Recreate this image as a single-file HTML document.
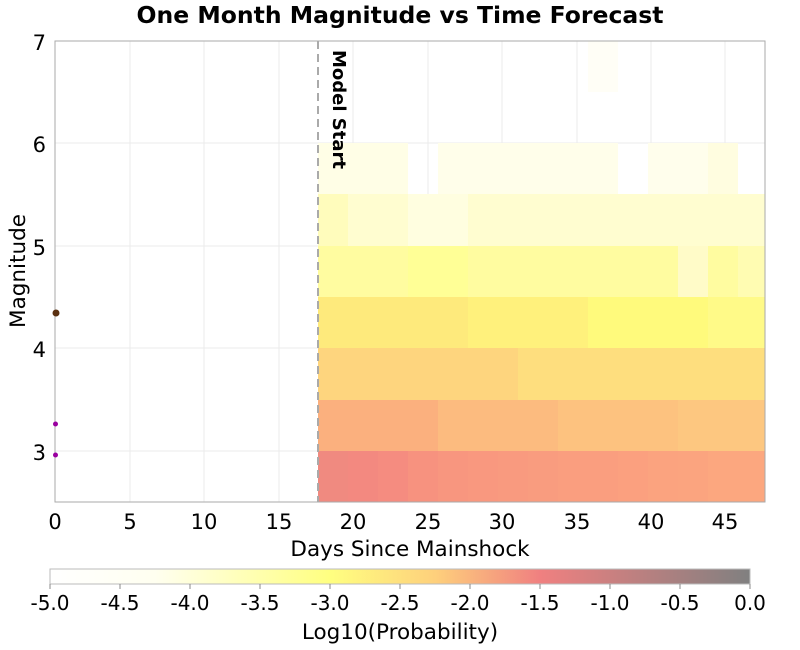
<!DOCTYPE html>
<html><head><meta charset="utf-8"><style>body{margin:0;background:#fff}svg{display:block}text{font-family:"DejaVu Sans","Liberation Sans",sans-serif}</style></head><body>
<svg width="800" height="650" viewBox="0 0 800 650" xmlns="http://www.w3.org/2000/svg">
<defs><linearGradient id="cb" x1="0" x2="1"><stop offset="0" stop-color="#ffffff"/><stop offset="0.15" stop-color="#fffff0"/><stop offset="0.4" stop-color="#ffff80"/><stop offset="0.55" stop-color="#fed07c"/><stop offset="0.7" stop-color="#f08080"/><stop offset="1" stop-color="#808080"/></linearGradient></defs>
<text x="400" y="23" font-size="23.5" font-weight="bold" text-anchor="middle">One Month Magnitude vs Time Forecast</text>
<rect x="55" y="41" width="710" height="461" fill="#fff"/>
<g stroke="#ebebeb" stroke-width="1">
<line x1="130" y1="41" x2="130" y2="502"/><line x1="204" y1="41" x2="204" y2="502"/><line x1="279" y1="41" x2="279" y2="502"/><line x1="353" y1="41" x2="353" y2="502"/><line x1="428" y1="41" x2="428" y2="502"/><line x1="502" y1="41" x2="502" y2="502"/><line x1="577" y1="41" x2="577" y2="502"/><line x1="651" y1="41" x2="651" y2="502"/><line x1="725" y1="41" x2="725" y2="502"/>
<line x1="55" y1="143" x2="765" y2="143"/><line x1="55" y1="246" x2="765" y2="246"/><line x1="55" y1="348" x2="765" y2="348"/><line x1="55" y1="451" x2="765" y2="451"/>
</g>
<g id="cells">
<rect x="318" y="451" width="30" height="51" fill="#f08a80"/><rect x="348" y="451" width="30" height="51" fill="#f38980"/><rect x="378" y="451" width="30" height="51" fill="#f58c80"/><rect x="408" y="451" width="30" height="51" fill="#f7927f"/><rect x="438" y="451" width="30" height="51" fill="#f8967f"/><rect x="468" y="451" width="30" height="51" fill="#f9987f"/><rect x="498" y="451" width="30" height="51" fill="#f99a7f"/><rect x="528" y="451" width="30" height="51" fill="#f99c7f"/><rect x="558" y="451" width="30" height="51" fill="#fa9e7f"/><rect x="588" y="451" width="30" height="51" fill="#fa9e7f"/><rect x="618" y="451" width="30" height="51" fill="#fba07f"/><rect x="648" y="451" width="30" height="51" fill="#fba37f"/><rect x="678" y="451" width="30" height="51" fill="#fba47f"/><rect x="708" y="451" width="57" height="51" fill="#fca77f"/>
<rect x="318" y="400" width="120" height="51" fill="#fbb07e"/><rect x="438" y="400" width="120" height="51" fill="#fcbb7f"/><rect x="558" y="400" width="120" height="51" fill="#fdc27f"/><rect x="678" y="400" width="87" height="51" fill="#fdc780"/>
<rect x="318" y="348" width="200" height="52" fill="#fed57e"/><rect x="518" y="348" width="247" height="52" fill="#fede7e"/>
<rect x="318" y="297" width="150" height="51" fill="#feea7c"/><rect x="468" y="297" width="120" height="51" fill="#fff17c"/><rect x="588" y="297" width="120" height="51" fill="#fffa7c"/><rect x="708" y="297" width="57" height="51" fill="#fffa88"/>
<rect x="318" y="246" width="447" height="51" fill="#fffca0"/><rect x="408" y="246" width="60" height="51" fill="#ffff96"/><rect x="678" y="246" width="30" height="51" fill="#fffbc8"/><rect x="738" y="246" width="27" height="51" fill="#fffcb2"/>
<rect x="318" y="194" width="447" height="52" fill="#fffdd0"/><rect x="318" y="194" width="30" height="52" fill="#fffcbc"/><rect x="408" y="194" width="60" height="52" fill="#fffee0"/>
<rect x="318" y="143" width="90" height="51" fill="#fffee6"/><rect x="438" y="143" width="180" height="51" fill="#fffeea"/><rect x="648" y="143" width="60" height="51" fill="#fffeec"/><rect x="708" y="143" width="30" height="51" fill="#fffde0"/>
<rect x="588" y="41" width="30" height="51" fill="#fffef6"/>
</g>
<line x1="318" y1="41" x2="318" y2="502" stroke="#aaa" stroke-width="2" stroke-dasharray="8,5"/>
<text transform="translate(333,50) rotate(90)" font-size="18" font-weight="bold">Model Start</text>
<rect x="55" y="41" width="710" height="461" fill="none" stroke="#aaa"/>
<circle cx="56" cy="313" r="3.5" fill="#5a3010"/><circle cx="55.5" cy="424" r="2.5" fill="#9a00a0"/><circle cx="55.5" cy="455" r="2.5" fill="#9a00a0"/>
<g font-size="21" text-anchor="middle">
<text x="55" y="529">0</text><text x="130" y="529">5</text><text x="204" y="529">10</text><text x="279" y="529">15</text><text x="353" y="529">20</text><text x="428" y="529">25</text><text x="502" y="529">30</text><text x="577" y="529">35</text><text x="651" y="529">40</text><text x="725" y="529">45</text>
</g>
<g font-size="21" text-anchor="end">
<text x="46" y="50">7</text><text x="46" y="152">6</text><text x="46" y="255">5</text><text x="46" y="357">4</text><text x="46" y="460">3</text>
</g>
<text x="410" y="556" font-size="21.5" text-anchor="middle">Days Since Mainshock</text>
<text transform="translate(25,271) rotate(-90)" font-size="21.5" text-anchor="middle">Magnitude</text>
<rect x="50" y="569" width="700" height="15" fill="url(#cb)" stroke="#bbb" stroke-width="1"/>
<g stroke="#888"><line x1="50" y1="584" x2="50" y2="589"/><line x1="120" y1="584" x2="120" y2="589"/><line x1="190" y1="584" x2="190" y2="589"/><line x1="260" y1="584" x2="260" y2="589"/><line x1="330" y1="584" x2="330" y2="589"/><line x1="400" y1="584" x2="400" y2="589"/><line x1="470" y1="584" x2="470" y2="589"/><line x1="540" y1="584" x2="540" y2="589"/><line x1="610" y1="584" x2="610" y2="589"/><line x1="680" y1="584" x2="680" y2="589"/><line x1="750" y1="584" x2="750" y2="589"/></g>
<g font-size="20" text-anchor="middle">
<text x="50" y="610">-5.0</text><text x="120" y="610">-4.5</text><text x="190" y="610">-4.0</text><text x="260" y="610">-3.5</text><text x="330" y="610">-3.0</text><text x="400" y="610">-2.5</text><text x="470" y="610">-2.0</text><text x="540" y="610">-1.5</text><text x="610" y="610">-1.0</text><text x="680" y="610">-0.5</text><text x="750" y="610">0.0</text>
</g>
<text x="400" y="639" font-size="21.5" text-anchor="middle">Log10(Probability)</text>
</svg>
</body></html>
